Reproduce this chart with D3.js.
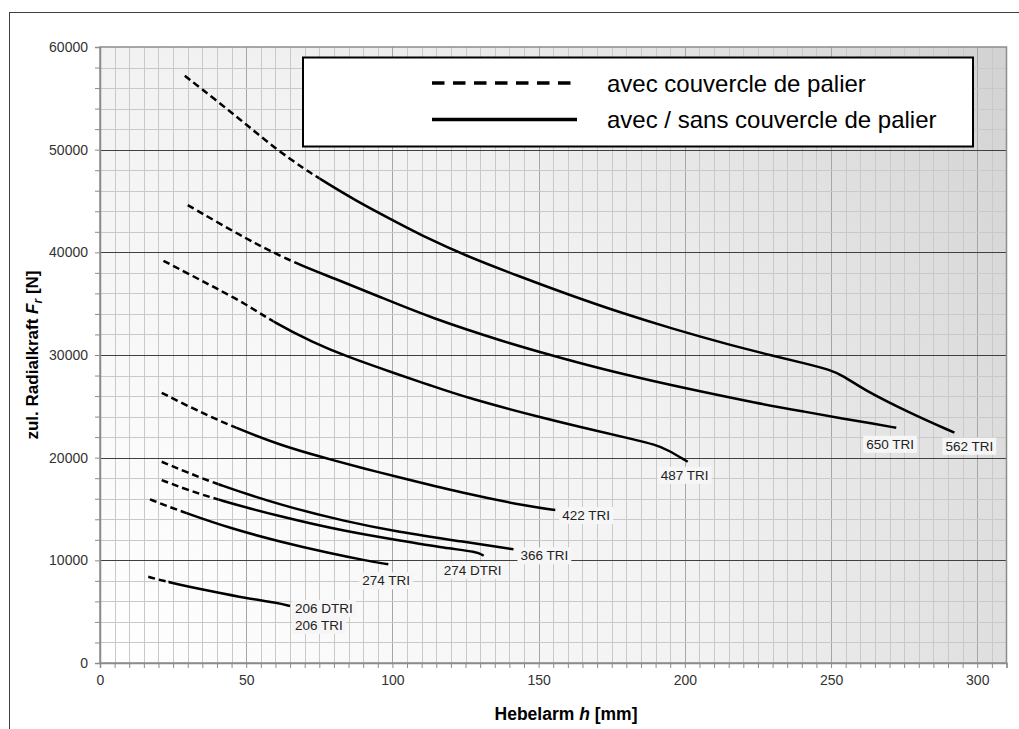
<!DOCTYPE html>
<html>
<head>
<meta charset="utf-8">
<script src="https://cdn.jsdelivr.net/npm/d3@7"></script>
<style>
  body { margin: 0; background: #fff; }
  svg { display: block; font-family: "Liberation Sans", Arial, sans-serif; }
</style>
</head>
<body>
<div id="chart"></div>
<script>
// Lever arm h [mm] and permitted radial force Fr [N]
const h562 = [29, 40, 50, 60.5, 70, 75, 86.7, 102.6, 112.9, 123.2, 143.8, 160.5, 177.2, 195.2, 215.7, 229.9, 241.5, 249.8, 254.3, 260.7, 276.2, 292.2];
const f562 = [57200, 54750, 52450, 50000, 48100, 47200, 45150, 42750, 41250, 39900, 37600, 35850, 34200, 32600, 30950, 29950, 29150, 28550, 27950, 26700, 24450, 22430];

const h650 = [30, 40, 50, 57, 68.4, 79.8, 95.8, 112.9, 138.6, 154, 170, 190, 203, 224.7, 241.5, 254.3, 264.6, 272.3];
const f650 = [44600, 42950, 41350, 40300, 38750, 37500, 35650, 33650, 31250, 30000, 28750, 27400, 26600, 25300, 24450, 23800, 23300, 22910];

const h487 = [21.7, 30, 38.8, 50, 59.3, 73, 84.4, 101.5, 112.9, 125.8, 151.5, 170.7, 182.3, 190, 193.9, 201];
const f487 = [39170, 37950, 36640, 34950, 33200, 31200, 29850, 28150, 27050, 25800, 23850, 22550, 21800, 21250, 20800, 19600];

const h422 = [21.1, 33, 46.8, 61.6, 75.3, 92.4, 99.2, 124.3, 147.1, 155.7];
const f422 = [26320, 24600, 22850, 21230, 20090, 18790, 18300, 16520, 15220, 14900];

const h366 = [21.1, 30, 39.9, 61.6, 84.4, 101.5, 124.3, 141.4];
const f366 = [19600, 18550, 17430, 15380, 13760, 12790, 11810, 11070];

const h274d = [21.1, 30, 39.9, 61.6, 84.4, 101.5, 118.6, 128.9, 131.2];
const f274d = [17820, 16850, 15940, 14250, 12790, 11980, 11170, 10840, 10450];

const h274 = [17.1, 23, 29.7, 44.5, 61.6, 78.7, 90.1, 98.6];
const f274 = [15940, 15280, 14580, 13120, 11810, 10680, 10030, 9610];

const h206 = [16.5, 23.4, 38.8, 50.2, 60.5, 65];
const f206 = [8400, 7860, 6940, 6300, 5870, 5550];

// up to which h each curve is only valid with bearing cover (dashed part)
const dashEnds = [75, 68.4, 59.3, 46.8, 40.5, 40.5, 29.7, 23.4];

const curveH = [h562, h650, h487, h422, h366, h274d, h274, h206];
const curveF = [f562, f650, f487, f422, f366, f274d, f274, f206];

// curve labels and which curve they belong to
const labelNames = ["562 TRI", "650 TRI", "487 TRI", "422 TRI", "366 TRI", "274 DTRI", "274 TRI", "206 DTRI", "206 TRI"];
const labelCurve = [0, 1, 2, 3, 4, 5, 6, 7, 7];

const legendNames = ["avec couvercle de palier", "avec / sans couvercle de palier"];

const xTicks = d3.range(0, 310.1, 5);
const yTicks = d3.range(0, 60001, 2000);

// ---------------- layout ---------------- //
const width = 1019, height = 729;
const plot = { left: 100, right: 1006.5, top: 47, bottom: 663 };
// pixel offsets of the label text from the curve end
const labelOffsets = [[-9, 18], [-30, 21], [-27, 18], [7, 10], [7, 11], [-40, 19], [-26, 21], [5, 7], [5, 24]];

const x = d3.scaleLinear().domain([0, 310]).range([plot.left, plot.right]);
const y = d3.scaleLinear().domain([0, 60000]).range([plot.bottom, plot.top]);

const svg = d3.select("#chart").append("svg")
  .attr("width", width)
  .attr("height", height);

// Outer chart frame
svg.append("rect")
  .attr("x", 9.5).attr("y", 12.5)
  .attr("width", width + 20).attr("height", height + 20)
  .attr("fill", "#fff")
  .attr("stroke", "#404040");

// Plot background gradient (light bottom-left, darker top-right)
const defs = svg.append("defs");
const grad = defs.append("radialGradient")
  .attr("id", "bg")
  .attr("gradientUnits", "userSpaceOnUse")
  .attr("cx", plot.left).attr("cy", plot.bottom)
  .attr("r", Math.hypot(plot.right - plot.left, plot.bottom - plot.top));
grad.append("stop").attr("offset", 0).attr("stop-color", "#ffffff");
grad.append("stop").attr("offset", 0.55).attr("stop-color", "#f2f2f2");
grad.append("stop").attr("offset", 1).attr("stop-color", "#d2d2d2");

svg.append("rect")
  .attr("x", plot.left).attr("y", plot.top)
  .attr("width", plot.right - plot.left)
  .attr("height", plot.bottom - plot.top)
  .attr("fill", "url(#bg)");

// Grid lines
const grid = svg.append("g").attr("class", "grid");
grid.selectAll("line.v")
  .data(xTicks.filter(d => d > 0 && d < 310))
  .enter().append("line")
  .attr("x1", d => Math.round(x(d)) + 0.5).attr("x2", d => Math.round(x(d)) + 0.5)
  .attr("y1", plot.top).attr("y2", plot.bottom)
  .attr("stroke", d => d % 50 === 0 ? "#a6a6a6" : "#c9c9c9")
  .attr("stroke-width", 1);
grid.selectAll("line.hm")
  .data(yTicks.filter(d => d > 0 && d < 60000 && d % 10000 !== 0))
  .enter().append("line")
  .attr("x1", plot.left).attr("x2", plot.right)
  .attr("y1", d => Math.round(y(d)) + 0.5).attr("y2", d => Math.round(y(d)) + 0.5)
  .attr("stroke", "#c9c9c9");
grid.selectAll("line.hM")
  .data(yTicks.filter(d => d > 0 && d < 60000 && d % 10000 === 0))
  .enter().append("line")
  .attr("x1", plot.left).attr("x2", plot.right)
  .attr("y1", d => Math.round(y(d)) + 0.5).attr("y2", d => Math.round(y(d)) + 0.5)
  .attr("stroke", "#404040");

// Plot border
svg.append("rect")
  .attr("x", plot.left).attr("y", plot.top)
  .attr("width", plot.right - plot.left)
  .attr("height", plot.bottom - plot.top)
  .attr("fill", "none")
  .attr("stroke", "#8c8c8c")
  .attr("stroke-width", 1.5);

// Axes
const xAxis = d3.axisBottom(x)
  .tickValues(xTicks)
  .tickSize(5)
  .tickPadding(7)
  .tickFormat(d => d % 50 === 0 ? d : "");
const yAxis = d3.axisLeft(y)
  .tickValues(yTicks)
  .tickSize(5)
  .tickPadding(7)
  .tickFormat(d => d % 10000 === 0 ? d : "");

function styleAxis(g) {
  g.select(".domain").attr("stroke", "#8c8c8c").attr("stroke-width", 1.5);
  g.selectAll(".tick line").attr("stroke", "#8c8c8c");
  g.selectAll(".tick text")
    .attr("fill", "#333")
    .style("font-size", "14px")
    .style("font-family", "'Liberation Sans', Arial, sans-serif");
}

svg.append("g")
  .attr("transform", "translate(0," + plot.bottom + ")")
  .call(xAxis).call(styleAxis);
svg.append("g")
  .attr("transform", "translate(" + plot.left + ",0)")
  .call(yAxis).call(styleAxis);

// Axis titles
const xTitle = svg.append("text")
  .attr("x", 566).attr("y", 720)
  .attr("text-anchor", "middle")
  .style("font-size", "17.5px").style("font-weight", "bold")
  .attr("fill", "#000");
xTitle.append("tspan").text("Hebelarm ");
xTitle.append("tspan").style("font-style", "italic").text("h");
xTitle.append("tspan").text(" [mm]");

const yTitle = svg.append("text")
  .attr("transform", "translate(38,355) rotate(-90)")
  .attr("text-anchor", "middle")
  .style("font-size", "17px").style("font-weight", "bold")
  .attr("fill", "#000");
yTitle.append("tspan").text("zul. Radialkraft ");
yTitle.append("tspan").style("font-style", "italic").text("F");
yTitle.append("tspan").style("font-style", "italic").style("font-size", "12px")
  .attr("dy", 4).text("r");
yTitle.append("tspan").attr("dy", -4).text(" [N]");

// Curves: one smooth path per curve, drawn dashed left of the dash end
// and solid right of it (via clip paths)
const line = d3.line()
  .x(d => x(d[0]))
  .y(d => y(d[1]))
  .curve(d3.curveBasis);

const curves = svg.append("g").attr("class", "curves");
curveH.forEach((hs, i) => {
  const pts = hs.map((h, j) => [h, curveF[i][j]]);
  const xs = x(dashEnds[i]);
  defs.append("clipPath").attr("id", "cl" + i)
    .append("rect").attr("x", 0).attr("y", 0).attr("width", xs).attr("height", height);
  defs.append("clipPath").attr("id", "cr" + i)
    .append("rect").attr("x", xs).attr("y", 0).attr("width", width).attr("height", height);
  curves.append("path")
    .attr("d", line(pts))
    .attr("clip-path", "url(#cl" + i + ")")
    .attr("fill", "none")
    .attr("stroke", "#000")
    .attr("stroke-width", 2.5)
    .attr("stroke-dasharray", "7,4");
  curves.append("path")
    .attr("d", line(pts))
    .attr("clip-path", "url(#cr" + i + ")")
    .attr("fill", "none")
    .attr("stroke", "#000")
    .attr("stroke-width", 2.5);
});

// Curve labels with light boxes
const labels = svg.append("g").attr("class", "labels");
labelNames.forEach((name, i) => {
  const c = labelCurve[i];
  const hs = curveH[c], fs = curveF[c];
  const ex = x(hs[hs.length - 1]), ey = y(fs[fs.length - 1]);
  const g = labels.append("g");
  const t = g.append("text")
    .attr("x", ex + labelOffsets[i][0])
    .attr("y", ey + labelOffsets[i][1])
    .style("font-size", "13.5px")
    .attr("fill", "#222")
    .text(name);
  const bb = t.node().getBBox();
  g.insert("rect", "text")
    .attr("x", bb.x - 3).attr("y", bb.y - 1)
    .attr("width", bb.width + 6).attr("height", bb.height + 2)
    .attr("fill", "#f6f6f6");
});

// Legend
const legend = svg.append("g").attr("class", "legend");
legend.append("rect")
  .attr("x", 303).attr("y", 57.5)
  .attr("width", 670).attr("height", 89)
  .attr("fill", "#fff")
  .attr("stroke", "#000")
  .attr("stroke-width", 2);
const legendY = [83, 119.5];
legendNames.forEach((name, i) => {
  legend.append("line")
    .attr("x1", 432).attr("x2", 577)
    .attr("y1", legendY[i]).attr("y2", legendY[i])
    .attr("stroke", "#000")
    .attr("stroke-width", 3.5)
    .attr("stroke-dasharray", i === 0 ? "12.5,8.5" : null);
  legend.append("text")
    .attr("x", 607).attr("y", legendY[i] + 8.5)
    .style("font-size", "24px")
    .attr("fill", "#000")
    .text(name);
});
</script>
</body>
</html>
